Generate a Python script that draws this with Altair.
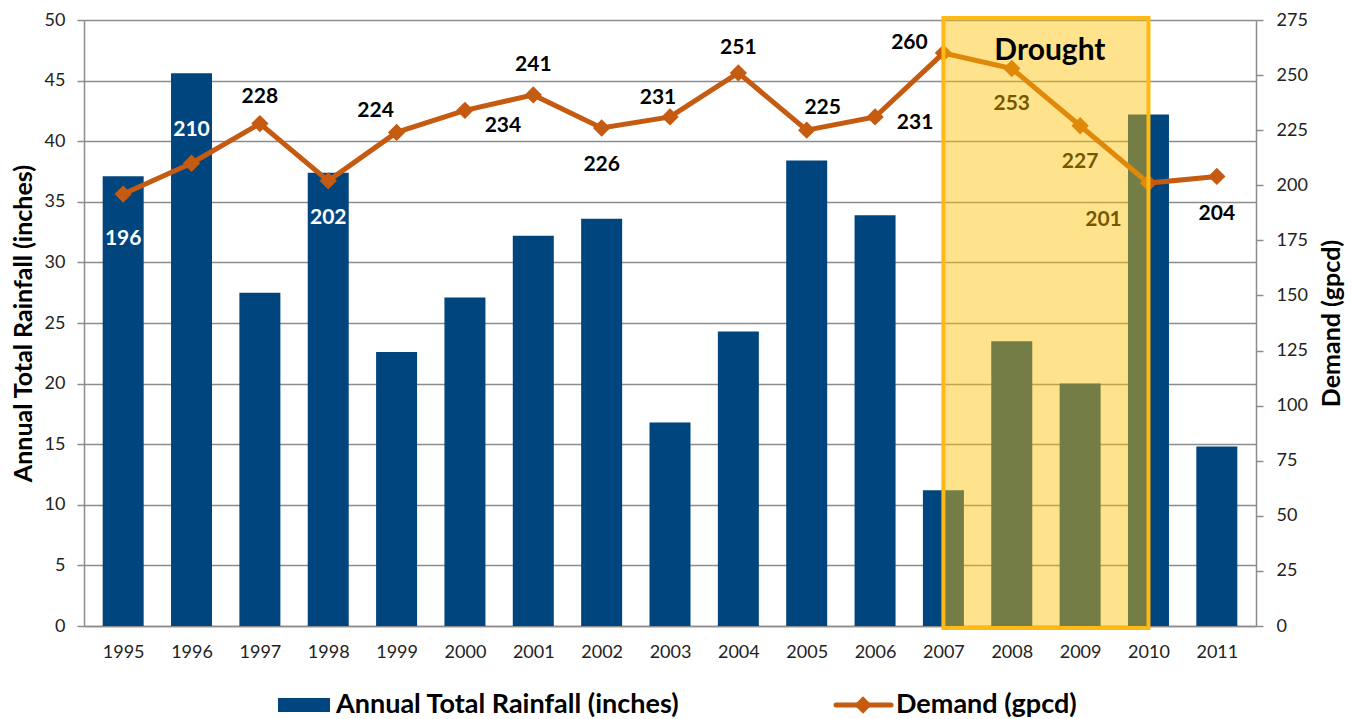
import altair as alt
import pandas as pd

years = [1995, 1996, 1997, 1998, 1999, 2000, 2001, 2002, 2003, 2004,
         2005, 2006, 2007, 2008, 2009, 2010, 2011]
rainfall = [37.1, 45.6, 27.5, 37.4, 22.6, 27.1, 32.2, 33.6, 16.8, 24.3,
            38.4, 33.9, 11.2, 23.5, 20.0, 42.2, 14.8]
demand = [196, 210, 228, 202, 224, 234, 241, 226, 231, 251,
          225, 231, 260, 253, 227, 201, 204]
drought_start = [2007]
drought_end = [2010]

# label placement (style, pixels)
label_dx = [0, 0, 0, 0, -21, 38, 0, 0, -12, 0, 16, 40, -34, 0, 0, -45, 0]
label_dy = [45, -33, -27, 37, -21, 16, -30, 37, -19, -25, -22, 6, -10, 36, 36, 37, 38]
white_label_years = {1995, 1996, 1998}

FONT = "Lato, sans-serif"
GRID = "#8c8c8c"
BLUE = "#00457e"
ORANGE = "#c55a11"

df = pd.DataFrame({"year": years, "rain": rainfall, "demand": demand})
lab = pd.DataFrame({"year": years, "demand": demand, "txt": [str(v) for v in demand]})
dr = pd.DataFrame({"s": drought_start, "e": drought_end,
                   "mid": [(a + b) / 2 for a, b in zip(drought_start, drought_end)]})

xscale = alt.Scale(domain=[1994.5, 2011.5], nice=False, zero=False)
xaxis = alt.Axis(values=years, format="d", title=None, grid=False, ticks=False,
                 domainColor=GRID, domainWidth=1.5, labelFontSize=18,
                 labelColor="#222222", labelPadding=17, labelFont=FONT,
                 labelFlush=False)
X = alt.X("year:Q", scale=xscale, axis=xaxis)

bars = alt.Chart(df).mark_bar(size=41, color=BLUE).encode(
    x=X,
    y=alt.Y("rain:Q", scale=alt.Scale(domain=[0, 50], nice=False),
            axis=alt.Axis(values=list(range(0, 51, 5)), title="Annual Total Rainfall (inches)",
                          grid=True, gridColor=GRID, gridWidth=1.5,
                          domainColor=GRID, domainWidth=1.5, tickColor=GRID,
                          tickWidth=1.5, tickSize=7, labelFontSize=18,
                          labelColor="#222222", labelFont=FONT, labelPadding=12,
                          titleFont=FONT, titleFontSize=25, titleFontWeight="bold",
                          titleColor="black", titleX=-61, titleY=303,
                          titleBaseline="middle", titleAlign="center", titleAngle=270)),
)

yr_scale = alt.Scale(domain=[0, 275], nice=False)
yr_axis = alt.Axis(orient="right", values=list(range(0, 276, 25)), title="Demand (gpcd)",
                   grid=False, domainColor=GRID, domainWidth=1.5, tickColor=GRID,
                   tickWidth=1.5, tickSize=7, labelFontSize=18, labelColor="#222222",
                   labelFont=FONT, labelPadding=13, titleFont=FONT, titleFontSize=25,
                   titleFontWeight="bold", titleColor="black", titleX=75, titleY=303,
                   titleBaseline="middle", titleAlign="center", titleAngle=270)
Y = alt.Y("demand:Q", scale=yr_scale, axis=yr_axis)

line = alt.Chart(df).mark_line(color=ORANGE, strokeWidth=5).encode(x=X, y=Y)
pts = alt.Chart(df).mark_point(shape="diamond", filled=True, color=ORANGE,
                               size=300, opacity=1).encode(x=X, y=Y)

label_layers = []
for yr, dx, dy in zip(years, label_dx, label_dy):
    col = "white" if yr in white_label_years else "black"
    label_layers.append(
        alt.Chart(lab).transform_filter(alt.datum.year == yr).mark_text(
            font=FONT, fontSize=21, fontWeight="bold", align="center",
            baseline="middle", dx=dx, dy=dy, color=col,
        ).encode(x=X, y=Y, text="txt:N")
    )
right = alt.layer(line, pts, *label_layers)

overlay = alt.Chart(dr).mark_rect(fill="#ffc000", fillOpacity=0.45,
                                  stroke="#ffb914", strokeWidth=4).encode(
    x=alt.X("s:Q", scale=xscale, axis=xaxis),
    x2="e:Q",
    y=alt.value(-2),
    y2=alt.value(608),
)
drought_txt = alt.Chart(dr).mark_text(text="Drought", font=FONT, fontSize=30,
                                      fontWeight="bold", color="black", dx=4,
                                      baseline="middle").encode(
    x=alt.X("mid:Q", scale=xscale, axis=xaxis),
    y=alt.value(31),
)

LEG_Y = 685
leg_df = pd.DataFrame({"k": [0]})
leg_bar = alt.Chart(leg_df).mark_rect(color=BLUE).encode(
    x=alt.value(194), x2=alt.value(246), y=alt.value(LEG_Y - 7), y2=alt.value(LEG_Y + 7))
leg_bar_t = alt.Chart(leg_df).mark_text(text="Annual Total Rainfall (inches)", font=FONT,
                                        fontSize=27, fontWeight="bold", align="left",
                                        baseline="middle", color="black").encode(
    x=alt.value(252), y=alt.value(LEG_Y))
leg_line = alt.Chart(leg_df).mark_rule(color=ORANGE, strokeWidth=5, strokeCap="round").encode(
    x=alt.value(752), x2=alt.value(807), y=alt.value(LEG_Y))
leg_pt = alt.Chart(leg_df).mark_point(shape="diamond", filled=True, color=ORANGE,
                                      size=300, opacity=1).encode(
    x=alt.value(779), y=alt.value(LEG_Y))
leg_line_t = alt.Chart(leg_df).mark_text(text="Demand (gpcd)", font=FONT, fontSize=27,
                                         fontWeight="bold", align="left",
                                         baseline="middle", color="black").encode(
    x=alt.value(812), y=alt.value(LEG_Y))

chart = alt.layer(bars, right, overlay, drought_txt,
                  leg_bar, leg_bar_t, leg_line, leg_pt, leg_line_t).resolve_scale(
    y="independent"
).properties(
    width=1172, height=606,
    autosize=alt.AutoSizeParams(type="none"),
    padding={"left": 76, "top": 12, "right": 89, "bottom": 93},
).configure_view(stroke=None).configure(background="white")

chart.save("out.html", embed_options={"renderer": "svg", "actions": False})
